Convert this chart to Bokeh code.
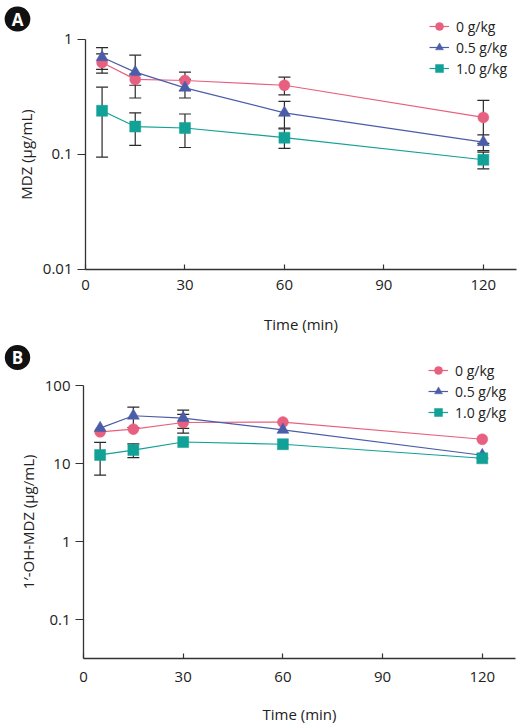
from bokeh.plotting import figure
from bokeh.models import (ColumnDataSource, Whisker, TeeHead, FixedTicker, CustomJSTickFormatter,
                          Legend, LegendItem, Label, Range1d)
from bokeh.layouts import column
from bokeh.embed import file_html
from bokeh.resources import INLINE

# ---- data ----
time = [5, 15, 30, 60, 120]
series_labels = ["0 g/kg", "0.5 g/kg", "1.0 g/kg"]

mdz_0 = [0.63, 0.45, 0.44, 0.40, 0.21]
mdz_0_err = [0.12, 0.05, 0.08, 0.07, 0.085]
mdz_05 = [0.70, 0.52, 0.38, 0.23, 0.128]
mdz_05_err = [0.15, 0.21, 0.07, 0.06, 0.02]
mdz_10 = [0.24, 0.175, 0.17, 0.14, 0.09]
mdz_10_err = [0.145, 0.055, 0.055, 0.027, 0.015]

oh_0 = [25.5, 27.6, 33.6, 34.0, 20.5]
oh_0_err = [0, 0, 9, 0, 0]
oh_05 = [28.5, 41.0, 38.3, 27.0, 12.8]
oh_05_err = [0, 12, 10, 0, 0]
oh_10 = [12.9, 14.9, 18.9, 17.7, 11.7]
oh_10_err = [5.8, 3.0, 0, 0, 0]

a_yticks = [0.01, 0.1, 1]
b_yticks = [0.1, 1, 10, 100]
xticks = [0, 30, 60, 90, 120]
x_axis_span = (0, 130)
a_axis_span = (0.01, 1)
b_axis_span = (10 ** -1.5, 100)

colors = ["#E8607F", "#4B5CA8", "#12A197"]
markers = ["circle", "triangle", "square"]
FONT = "Open Sans"
AX = "#333333"


def make_panel(letter, ylabel, series, errs, yticks, xr, yr, yspan, width, height,
               legend_pos, letter_pos, tick_standoff, label_standoff):
    p = figure(width=width, height=height, y_axis_type="log", output_backend="svg",
               toolbar_location=None, x_range=Range1d(*xr), y_range=Range1d(*yr),
               min_border=0)
    p.outline_line_color = None
    p.grid.visible = False
    p.background_fill_color = "white"

    items = []
    for vals, err, col, mk, lab in zip(series, errs, colors, markers, series_labels):
        src = ColumnDataSource(dict(x=time, y=vals))
        ex = [t for t, e in zip(time, err) if e > 0]
        ey = [v for v, e in zip(vals, err) if e > 0]
        ee = [e for e in err if e > 0]
        wsrc = ColumnDataSource(dict(x=ex, up=[v + e for v, e in zip(ey, ee)],
                                     lo=[v - e for v, e in zip(ey, ee)]))
        w = Whisker(source=wsrc, base="x", upper="up", lower="lo", dimension="height",
                    line_color="#2a2a2a", line_width=1.2,
                    upper_head=TeeHead(size=12, line_color="#2a2a2a", line_width=1.2),
                    lower_head=TeeHead(size=12, line_color="#2a2a2a", line_width=1.2))
        p.add_layout(w)
        ln = p.line("x", "y", source=src, line_color=col, line_width=1.2)
        sz = 11 if mk != "triangle" else 12
        sc = p.scatter("x", "y", source=src, marker=mk, size=sz, fill_color=col,
                       line_color=col, line_width=0.5)
        items.append(LegendItem(label=lab, renderers=[ln, sc]))

    leg = Legend(items=items, location=legend_pos, border_line_color=None,
                 background_fill_alpha=0, padding=0, margin=0, spacing=1,
                 glyph_width=20, glyph_height=20, label_height=20, label_standoff=7,
                 label_text_font=FONT, label_text_font_size="14px",
                 label_text_color="#222222")
    p.add_layout(leg, "center")

    p.xaxis.ticker = FixedTicker(ticks=xticks)
    p.yaxis.ticker = FixedTicker(ticks=yticks, minor_ticks=[])
    p.yaxis.formatter = CustomJSTickFormatter(code="return tick.toString();")
    for ax in (p.xaxis[0], p.yaxis[0]):
        ax.axis_line_color = AX
        ax.axis_line_width = 1.3
        ax.major_tick_line_color = AX
        ax.major_tick_line_width = 1.2
        ax.minor_tick_line_color = None
        ax.major_label_text_font = FONT
        ax.major_label_text_font_size = "15px"
        ax.major_label_text_color = "#222222"
        ax.axis_label_text_font = FONT
        ax.axis_label_text_font_size = "15px"
        ax.axis_label_text_font_style = "normal"
        ax.axis_label_text_color = "#222222"
    p.xaxis.fixed_location = yspan[0]
    p.xaxis.bounds = x_axis_span
    p.yaxis.fixed_location = 0
    p.yaxis.bounds = yspan
    p.xaxis.major_tick_in = 5
    p.xaxis.major_tick_out = 0
    p.xaxis.major_label_standoff = tick_standoff
    p.xaxis.axis_label = "Time (min)"
    p.xaxis.axis_label_standoff = label_standoff
    p.yaxis.major_tick_in = 0
    p.yaxis.major_tick_out = 8
    p.yaxis.major_label_standoff = 5
    p.yaxis.axis_label = ylabel
    p.yaxis.axis_label_standoff = 4

    lbl = Label(x=letter_pos[0], y=letter_pos[1], x_units="screen", y_units="screen",
                text=letter, text_color="white", text_font=FONT, text_font_style="bold",
                text_font_size="17px", text_align="center", text_baseline="middle",
                background_fill_color="#111111", border_radius=13,
                padding=dict(left=7, right=7, top=1, bottom=1))
    p.add_layout(lbl)
    return p


pa = make_panel("A", "MDZ (μg/mL)", [mdz_0, mdz_05, mdz_10],
                [mdz_0_err, mdz_05_err, mdz_10_err], a_yticks,
                (-25.64, 133.32), (10 ** -2.6, 10 ** 0.3391), a_axis_span,
                527, 338, (429, 260), (17, 319.5), 11, 20)
pb = make_panel("B", "1′-OH-MDZ (μg/mL)", [oh_0, oh_05, oh_10],
                [oh_0_err, oh_05_err, oh_10_err], b_yticks,
                (-24.98, 133.61), (10 ** -2.3662, 10 ** 2.6018), b_axis_span,
                527, 388, (428, 304), (17, 369), 13, 19)

layout = column(pa, pb, spacing=0)
open("out.html", "w").write(file_html(layout, INLINE))
